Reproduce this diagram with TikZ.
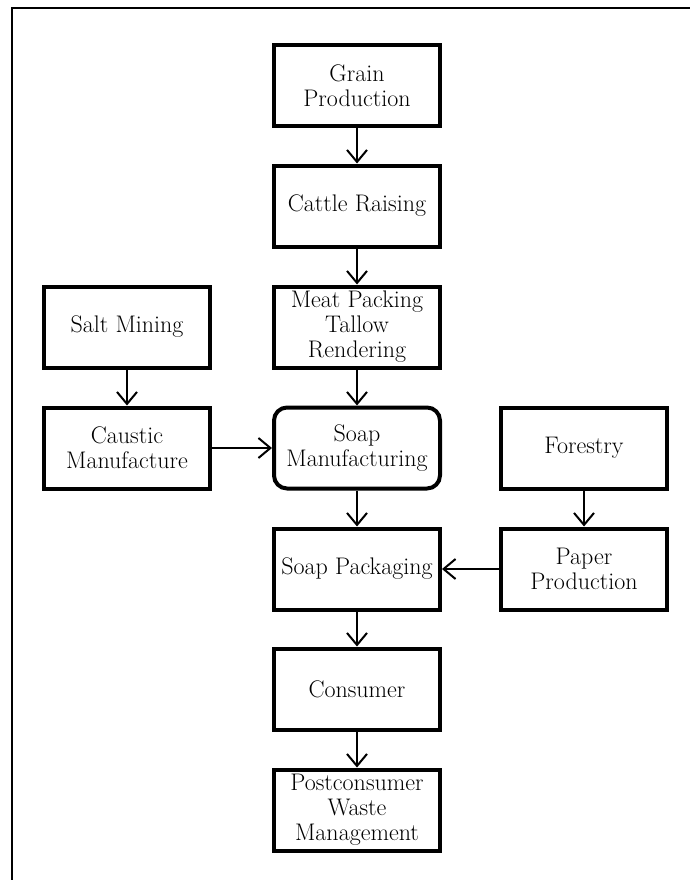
\documentclass[tikz,border=0pt]{standalone}
\usetikzlibrary{arrows.meta}
\begin{document}
\begin{tikzpicture}[x=1pt,y=-1pt,
  box/.style={draw=black,line width=4pt,fill=white,minimum width=166pt,minimum height=81pt,
    align=center,inner sep=2pt,font=\fontsize{24}{25}\selectfont},
  rbox/.style={box,rounded corners=13pt},
  flow/.style={line width=2pt,-{Straight Barb[length=12pt,width=20pt,line width=2pt]}}]
\useasboundingbox (0,0) rectangle (690,880);
\fill[white] (0,0) rectangle (690,880);
\draw[line width=2pt] (12,880) -- (12,8) -- (690,8);
\node[box] (grain) at (357,86) {Grain\\Production};
\node[box] (cattle) at (357,206) {Cattle Raising};
\node[box] (meat) at (357,327) {Meat Packing\\Tallow\\Rendering};
\node[rbox] (soapm) at (357,448) {Soap\\Manufacturing};
\node[box] (pack) at (357,569) {Soap Packaging};
\node[box] (cons) at (357,689) {Consumer};
\node[box] (post) at (357,810) {Postconsumer\\Waste\\Management};
\node[box] (salt) at (127,327) {Salt Mining};
\node[box] (caustic) at (127,448) {Caustic\\Manufacture};
\node[box] (forestry) at (584,448) {Forestry};
\node[box] (paper) at (584,569) {Paper\\Production};
\draw[flow] (grain) -- (cattle);
\draw[flow] (cattle) -- (meat);
\draw[flow] (meat) -- (soapm);
\draw[flow] (soapm) -- (pack);
\draw[flow] (pack) -- (cons);
\draw[flow] (cons) -- (post);
\draw[flow] (salt) -- (caustic);
\draw[flow] (caustic) -- (soapm);
\draw[flow] (forestry) -- (paper);
\draw[flow] (paper) -- (pack);
\end{tikzpicture}
\end{document}
